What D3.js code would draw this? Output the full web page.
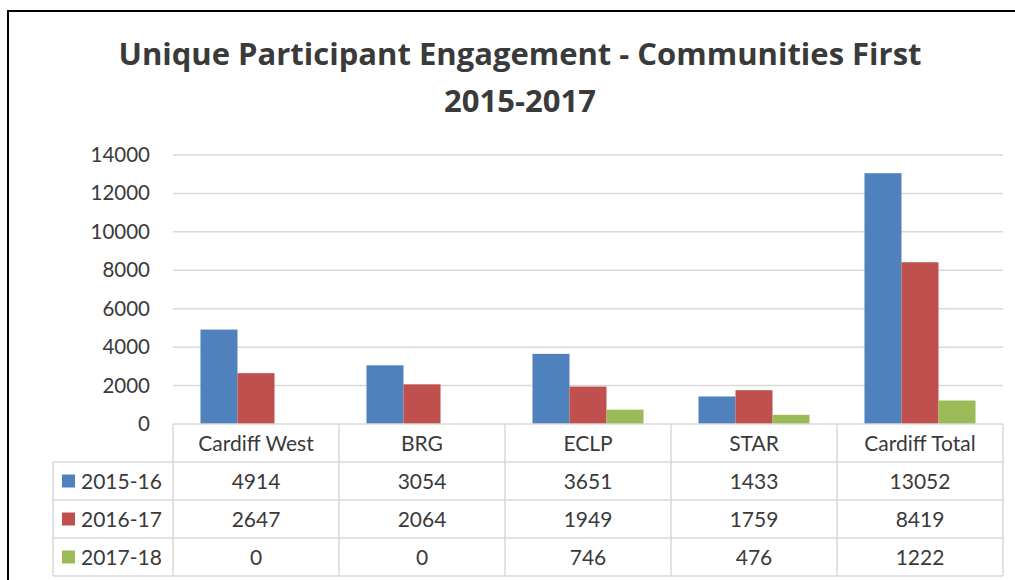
<!DOCTYPE html>
<html>
<head>
<meta charset="utf-8">
<script src="https://cdn.jsdelivr.net/npm/d3@7"></script>
<style>
  html, body { margin: 0; padding: 0; background: #fff; }
  svg { display: block; }
</style>
</head>
<body>
<svg id="chart" width="1015" height="580"></svg>
<script>
// chart data
const categories = ['Cardiff West', 'BRG', 'ECLP', 'STAR', 'Cardiff Total'];
const seriesNames = ['2015-16', '2016-17', '2017-18'];
const values2015 = [4914, 3054, 3651, 1433, 13052];
const values2016 = [2647, 2064, 1949, 1759, 8419];
const values2017 = [0, 0, 746, 476, 1222];
const yTicks = [0, 2000, 4000, 6000, 8000, 10000, 12000, 14000];
const titleLines = ['Unique Participant Engagement - Communities First', '2015-2017'];

const seriesValues = [values2015, values2016, values2017];
const colors = ['#4F81BD', '#C0504D', '#9BBB59'];
const font = 'Lato, "Open Sans", sans-serif';
const titleFont = '"Open Sans", Lato, sans-serif';
const textColor = '#3a3a3a';
const lineColor = '#D9D9D9';

const svg = d3.select('#chart');

// outer frame
svg.append('rect')
  .attr('x', 8).attr('y', 11)
  .attr('width', 1020).attr('height', 600)
  .attr('fill', 'none')
  .attr('stroke', '#000')
  .attr('stroke-width', 2);

// title
svg.append('g').selectAll('text')
  .data(titleLines)
  .join('text')
  .attr('x', 520)
  .attr('y', (d, i) => 65 + i * 47)
  .attr('text-anchor', 'middle')
  .attr('fill', textColor)
  .style('font-family', titleFont)
  .style('font-weight', 'bold')
  .style('font-size', '31px')
  .text(d => d);

const plotLeft = 173, plotRight = 1003;
const plotTop = 155, plotBottom = 424;
const rowH = 38;

const x = d3.scaleBand()
  .domain(categories)
  .range([plotLeft, plotRight])
  .paddingInner(0.331)
  .paddingOuter(0.1655);

const xs = d3.scaleBand()
  .domain(seriesNames)
  .range([0, x.bandwidth()]);

const y = d3.scaleLinear()
  .domain([0, 14000])
  .range([plotBottom, plotTop]);

// gridlines
svg.append('g').selectAll('line')
  .data(yTicks.filter(d => d > 0))
  .join('line')
  .attr('x1', plotLeft).attr('x2', plotRight)
  .attr('y1', d => y(d)).attr('y2', d => y(d))
  .attr('stroke', lineColor)
  .attr('stroke-width', 1.5);

// y axis labels
const yAxis = svg.append('g')
  .attr('transform', `translate(${plotLeft},0)`)
  .call(d3.axisLeft(y).tickValues(yTicks).tickSize(0).tickPadding(23).tickFormat(d3.format('d')))
  .style('font-family', font)
  .style('font-size', '20.5px');
yAxis.select('.domain').remove();
yAxis.selectAll('.tick text').attr('fill', textColor);

// bars
svg.append('g').selectAll('g')
  .data(seriesNames)
  .join('g')
  .attr('fill', (d, i) => colors[i])
  .selectAll('rect')
  .data((s, si) => categories.map((c, ci) => ({ c, s, v: seriesValues[si][ci] })))
  .join('rect')
  .attr('x', d => x(d.c) + xs(d.s))
  .attr('width', xs.bandwidth())
  .attr('y', d => y(d.v))
  .attr('height', d => y(0) - y(d.v));

// data table
const colW = x.step();
const tableLeft = 53;
const table = svg.append('g')
  .attr('stroke', lineColor)
  .attr('stroke-width', 1.5);

// horizontal lines
table.append('line')
  .attr('x1', plotLeft).attr('x2', plotRight)
  .attr('y1', plotBottom).attr('y2', plotBottom);
d3.range(1, seriesNames.length + 2).forEach(i => {
  table.append('line')
    .attr('x1', tableLeft).attr('x2', plotRight)
    .attr('y1', plotBottom + i * rowH).attr('y2', plotBottom + i * rowH);
});
// vertical lines
table.append('line')
  .attr('x1', tableLeft).attr('x2', tableLeft)
  .attr('y1', plotBottom + rowH).attr('y2', plotBottom + 4 * rowH);
d3.range(categories.length + 1).forEach(i => {
  table.append('line')
    .attr('x1', plotLeft + i * colW).attr('x2', plotLeft + i * colW)
    .attr('y1', plotBottom).attr('y2', plotBottom + 4 * rowH);
});

const cellText = svg.append('g')
  .style('font-family', font)
  .style('font-size', '21px')
  .attr('fill', textColor)
  .attr('text-anchor', 'middle');

// category header
cellText.selectAll('text.cat')
  .data(categories)
  .join('text')
  .attr('class', 'cat')
  .attr('x', d => x(d) + x.bandwidth() / 2)
  .attr('y', plotBottom + rowH / 2)
  .attr('dy', '0.36em')
  .text(d => d);

// values
seriesNames.forEach((s, si) => {
  const rowY = plotBottom + (si + 1) * rowH + rowH / 2;
  cellText.append('g').selectAll('text')
    .data(seriesValues[si])
    .join('text')
    .attr('x', (d, ci) => x(categories[ci]) + x.bandwidth() / 2)
    .attr('y', rowY)
    .attr('dy', '0.36em')
    .text(d => d);

  // legend key
  svg.append('rect')
    .attr('x', 62).attr('y', rowY - 6.5)
    .attr('width', 13).attr('height', 13)
    .attr('fill', colors[si]);
  svg.append('text')
    .attr('x', 81).attr('y', rowY)
    .attr('dy', '0.36em')
    .attr('fill', textColor)
    .style('font-family', font)
    .style('font-size', '21px')
    .text(s);
});
</script>
</body>
</html>
